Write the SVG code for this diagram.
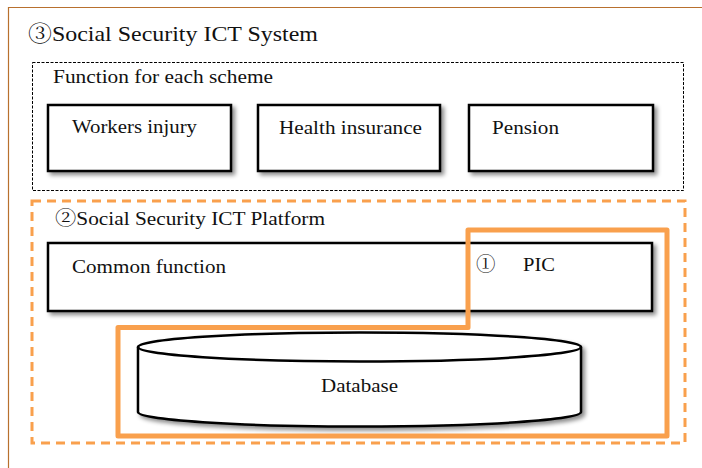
<svg xmlns="http://www.w3.org/2000/svg" width="702" height="468" viewBox="0 0 702 468">
<defs>
<filter id="sh" x="-10%" y="-20%" width="130%" height="150%">
<feDropShadow dx="3" dy="3" stdDeviation="2" flood-color="#000" flood-opacity="0.45"/>
</filter>
<style>
text{font-family:"Liberation Serif","Noto Serif CJK JP",serif;fill:#111;}
.cj{font-family:"Noto Serif CJK JP","Noto Sans CJK JP",serif;}
.box{fill:#fff;stroke:#000;stroke-width:2.5;filter:url(#sh);}
.t{font-size:19.5px;}
.orange{fill:none;stroke:#F9A04D;}
</style>
</defs>
<rect width="702" height="468" fill="#fff"/>
<g id="frame">
<path d="M8.5,468 V7.5 H702" fill="none" stroke="#B8702E" stroke-width="1.2"/>
<text x="28" y="41" font-size="22" textLength="290" lengthAdjust="spacingAndGlyphs"><tspan class="cj">③</tspan>Social Security ICT System</text>
</g>
<g id="scheme-group">
<rect x="32.5" y="62.5" width="651" height="128" fill="none" stroke="#000" stroke-width="1" stroke-dasharray="3 1.5"/>
<text class="t" x="53" y="83" textLength="220" lengthAdjust="spacingAndGlyphs">Function for each scheme</text>
</g>
<g id="workers-injury">
<rect class="box" x="48" y="105" width="183" height="66"/>
<text class="t" x="72" y="133" textLength="125" lengthAdjust="spacingAndGlyphs">Workers injury</text>
</g>
<g id="health-insurance">
<rect class="box" x="258" y="105" width="182" height="66"/>
<text class="t" x="279" y="134" textLength="143" lengthAdjust="spacingAndGlyphs">Health insurance</text>
</g>
<g id="pension">
<rect class="box" x="469" y="105" width="184" height="66"/>
<text class="t" x="492" y="134" textLength="67" lengthAdjust="spacingAndGlyphs">Pension</text>
</g>
<g id="platform">
<rect class="orange" x="32" y="201" width="653" height="242" stroke-width="3" stroke-dasharray="9 6"/>
<text class="t" x="55" y="225" textLength="270" lengthAdjust="spacingAndGlyphs"><tspan class="cj">②</tspan>Social Security ICT Platform</text>
</g>
<g id="common-function">
<rect class="box" x="48" y="243" width="604" height="68"/>
<text class="t" x="72" y="273" textLength="154" lengthAdjust="spacingAndGlyphs">Common function</text>
</g>
<g id="database">
<path class="box" d="M138,347 A221.5,14.5 0 0 1 581,347 V412 A221.5,14.5 0 0 1 138,412 Z"/>
<path d="M138,347 A221.5,14.5 0 0 0 581,347" fill="none" stroke="#000" stroke-width="2.5"/>
<text class="t" x="359.5" y="392" text-anchor="middle" textLength="77" lengthAdjust="spacingAndGlyphs">Database</text>
</g>
<g id="pic">
<path class="orange" d="M118,327.5 H468 V230 H667 V436 H118 Z" stroke-width="5" stroke-linejoin="round"/>
<text class="t cj" x="476" y="271">①</text>
<text class="t" x="523" y="271" textLength="32" lengthAdjust="spacingAndGlyphs">PIC</text>
</g>
<g id="connectors"></g>
</svg>
